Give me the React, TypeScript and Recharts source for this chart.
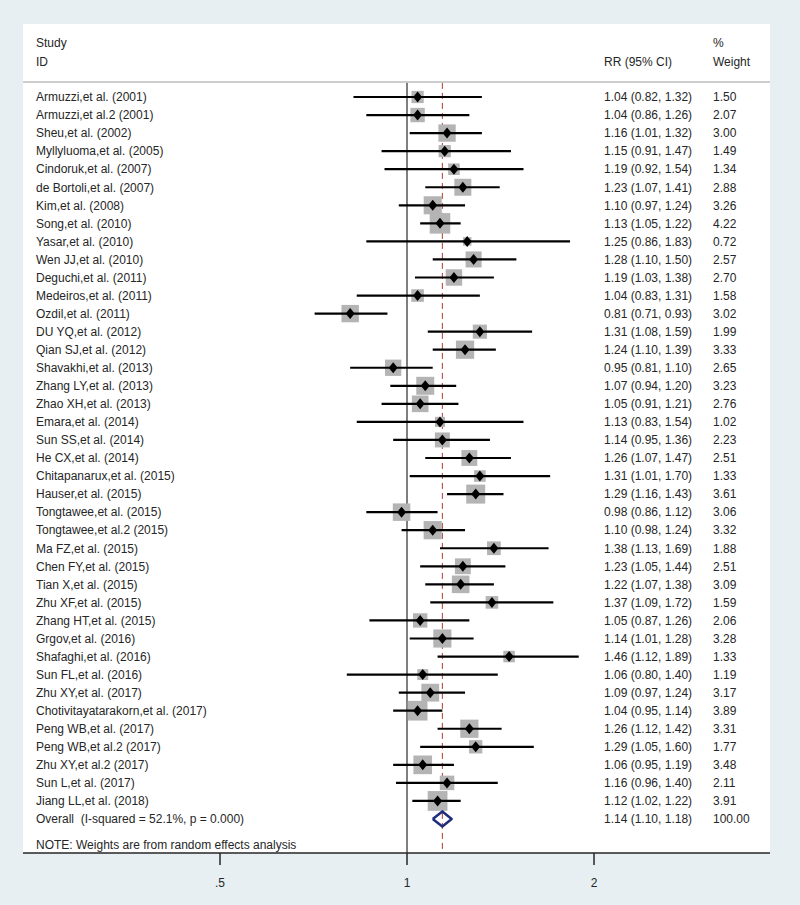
import { ComposedChart, Scatter, XAxis, YAxis, ReferenceLine, CartesianGrid } from 'recharts';

// study labels, top to bottom
const studies = [
  'Armuzzi,et al. (2001)',
  'Armuzzi,et al.2 (2001)',
  'Sheu,et al. (2002)',
  'Myllyluoma,et al. (2005)',
  'Cindoruk,et al. (2007)',
  'de Bortoli,et al. (2007)',
  'Kim,et al. (2008)',
  'Song,et al. (2010)',
  'Yasar,et al. (2010)',
  'Wen JJ,et al. (2010)',
  'Deguchi,et al. (2011)',
  'Medeiros,et al. (2011)',
  'Ozdil,et al. (2011)',
  'DU YQ,et al. (2012)',
  'Qian SJ,et al. (2012)',
  'Shavakhi,et al. (2013)',
  'Zhang LY,et al. (2013)',
  'Zhao XH,et al. (2013)',
  'Emara,et al. (2014)',
  'Sun SS,et al. (2014)',
  'He CX,et al. (2014)',
  'Chitapanarux,et al. (2015)',
  'Hauser,et al. (2015)',
  'Tongtawee,et al. (2015)',
  'Tongtawee,et al.2 (2015)',
  'Ma FZ,et al. (2015)',
  'Chen FY,et al. (2015)',
  'Tian X,et al. (2015)',
  'Zhu XF,et al. (2015)',
  'Zhang HT,et al. (2015)',
  'Grgov,et al. (2016)',
  'Shafaghi,et al. (2016)',
  'Sun FL,et al. (2016)',
  'Zhu XY,et al. (2017)',
  'Chotivitayatarakorn,et al. (2017)',
  'Peng WB,et al. (2017)',
  'Peng WB,et al.2 (2017)',
  'Zhu XY,et al.2 (2017)',
  'Sun L,et al. (2017)',
  'Jiang LL,et al. (2018)',
];

const rr = [
  1.04, 1.04, 1.16, 1.15, 1.19, 1.23, 1.1, 1.13, 1.25, 1.28,
  1.19, 1.04, 0.81, 1.31, 1.24, 0.95, 1.07, 1.05, 1.13, 1.14,
  1.26, 1.31, 1.29, 0.98, 1.1, 1.38, 1.23, 1.22, 1.37, 1.05,
  1.14, 1.46, 1.06, 1.09, 1.04, 1.26, 1.29, 1.06, 1.16, 1.12,
];

const ciLow = [
  0.82, 0.86, 1.01, 0.91, 0.92, 1.07, 0.97, 1.05, 0.86, 1.1,
  1.03, 0.83, 0.71, 1.08, 1.1, 0.81, 0.94, 0.91, 0.83, 0.95,
  1.07, 1.01, 1.16, 0.86, 0.98, 1.13, 1.05, 1.07, 1.09, 0.87,
  1.01, 1.12, 0.8, 0.97, 0.95, 1.12, 1.05, 0.95, 0.96, 1.02,
];

const ciHigh = [
  1.32, 1.26, 1.32, 1.47, 1.54, 1.41, 1.24, 1.22, 1.83, 1.5,
  1.38, 1.31, 0.93, 1.59, 1.39, 1.1, 1.2, 1.21, 1.54, 1.36,
  1.47, 1.7, 1.43, 1.12, 1.24, 1.69, 1.44, 1.38, 1.72, 1.26,
  1.28, 1.89, 1.4, 1.24, 1.14, 1.42, 1.6, 1.19, 1.4, 1.22,
];

const weights = [
  1.5, 2.07, 3.0, 1.49, 1.34, 2.88, 3.26, 4.22, 0.72, 2.57,
  2.7, 1.58, 3.02, 1.99, 3.33, 2.65, 3.23, 2.76, 1.02, 2.23,
  2.51, 1.33, 3.61, 3.06, 3.32, 1.88, 2.51, 3.09, 1.59, 2.06,
  3.28, 1.33, 1.19, 3.17, 3.89, 3.31, 1.77, 3.48, 2.11, 3.91,
];

const pooledLabel = 'Overall  (I-squared = 52.1%, p = 0.000)';
const pooledRR = 1.14;
const pooledLow = 1.1;
const pooledHigh = 1.18;
const pooledWeight = 100;
const noteText = 'NOTE: Weights are from random effects analysis';
const xTicks = [0.5, 1, 2];

const FONT = '"Liberation Sans", Arial, sans-serif';
const INK = '#262626';

const fmtCI = (v: number, lo: number, hi: number) =>
  `${v.toFixed(2)} (${lo.toFixed(2)}, ${hi.toFixed(2)})`;

const studyRows = studies.map((label, i) => ({ x: rr[i], y: i, label, weight: weights[i] }));

const overallY = studies.length;
const lineTop = -0.78;
const axisBottom = 41.884;

const textRows = [
  { x: 1, y: -3, label: 'Study', ci: '', wt: '%' },
  { x: 1, y: -1.95, label: 'ID', ci: 'RR (95% CI)', wt: 'Weight' },
  ...studies.map((label, i) => ({
    x: 1,
    y: i,
    label,
    ci: fmtCI(rr[i], ciLow[i], ciHigh[i]),
    wt: weights[i].toFixed(2),
  })),
  {
    x: 1,
    y: overallY,
    label: pooledLabel,
    ci: fmtCI(pooledRR, pooledLow, pooledHigh),
    wt: pooledWeight.toFixed(2),
  },
  { x: 1, y: overallY + 1.45, label: noteText, ci: '', wt: '' },
];

const halfH = 0.42;
const pooledDiamond = [
  { x: pooledLow, y: overallY },
  { x: pooledRR, y: overallY - halfH },
  { x: pooledHigh, y: overallY },
  { x: pooledRR, y: overallY + halfH },
  { x: pooledLow, y: overallY },
];

const BoxShape = (props: any) => {
  const { cx, cy, payload } = props;
  const s = 10 * Math.sqrt(payload.weight);
  return <rect x={cx - s / 2} y={cy - s / 2} width={s} height={s} fill="#b4b4b4" />;
};

const PointShape = (props: any) => {
  const { cx, cy } = props;
  return <path d={`M${cx - 4.5},${cy} L${cx},${cy - 5.5} L${cx + 4.5},${cy} L${cx},${cy + 5.5} Z`} fill="#000" />;
};

const NoShape = () => <g />;

const TextRow = (props: any) => {
  const { cy, payload } = props;
  const style = { fontFamily: FONT, fontSize: 12, fill: INK, whiteSpace: 'pre' as const };
  return (
    <g>
      <text x={36} y={cy + 4.3} style={style}>{payload.label}</text>
      {payload.ci && <text x={604} y={cy + 4.3} style={style}>{payload.ci}</text>}
      {payload.wt && <text x={713} y={cy + 4.3} style={style}>{payload.wt}</text>}
    </g>
  );
};

export default function App() {
  return (
    <div style={{ position: 'absolute', left: 0, top: 0, width: 800, height: 905, background: '#e7eff3' }}>
      <ComposedChart width={800} height={905} margin={{ top: 24, right: 30, bottom: 0, left: 23 }}>
        <CartesianGrid horizontal={false} vertical={false} fill="#ffffff" />
        <XAxis
          type="number"
          dataKey="x"
          scale="log"
          domain={[0.2409, 3.84]}
          allowDataOverflow
          ticks={xTicks}
          interval={0}
          tickFormatter={(v: number) => (v === 0.5 ? '.5' : String(v))}
          height={52}
          tickSize={12}
          tickMargin={13}
          axisLine={{ stroke: INK, strokeWidth: 1.5 }}
          tickLine={{ stroke: INK, strokeWidth: 1.5 }}
          tick={{ fill: INK, fontSize: 12, fontFamily: FONT }}
        />
        <YAxis type="number" dataKey="y" domain={[-4.044, axisBottom]} reversed hide allowDataOverflow />
        <ReferenceLine y={-0.83} stroke="#cdcdcd" strokeWidth={2} />
        <ReferenceLine
          segment={[{ x: 1, y: lineTop }, { x: 1, y: axisBottom }]}
          stroke="#000"
          strokeWidth={1}
        />
        <ReferenceLine
          segment={[{ x: pooledRR, y: lineTop }, { x: pooledRR, y: axisBottom }]}
          stroke="#b33a30"
          strokeWidth={1}
          strokeDasharray="6 4"
        />
        <Scatter data={studyRows} shape={BoxShape} isAnimationActive={false} />
        {studies.map((label, i) => (
          <Scatter
            key={label}
            data={[
              { x: ciLow[i], y: i },
              { x: ciHigh[i], y: i },
            ]}
            line={{ stroke: '#000', strokeWidth: 2.2 }}
            lineType="joint"
            shape={NoShape}
            isAnimationActive={false}
          />
        ))}
        <Scatter data={studyRows} shape={PointShape} isAnimationActive={false} />
        <Scatter
          data={pooledDiamond}
          line={{ stroke: '#1f2d7b', strokeWidth: 2.5, strokeLinejoin: 'round' }}
          lineType="joint"
          shape={NoShape}
          isAnimationActive={false}
        />
        <Scatter data={textRows} shape={TextRow} isAnimationActive={false} />
      </ComposedChart>
    </div>
  );
}
